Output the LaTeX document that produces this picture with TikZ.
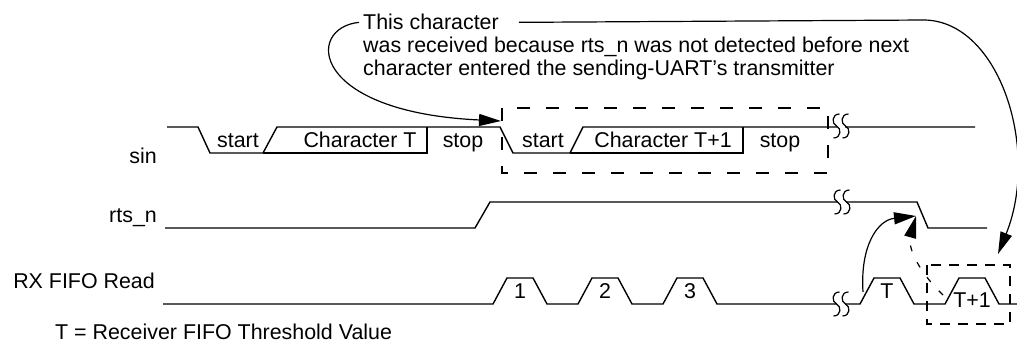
\documentclass[tikz,border=0pt]{standalone}
\usepackage{fontspec}
\setmainfont{Liberation Sans}
\usetikzlibrary{arrows.meta}

\begin{document}
\begin{tikzpicture}[
  x=1pt, y=-1pt, >={Triangle[length=22pt,width=12pt]},
  font=\fontsize{21.4}{25}\selectfont,
  sig/.style={line width=1.4pt, line join=miter},
  txt/.style={inner sep=0pt, anchor=base},
  lab/.style={inner sep=0pt, anchor=base east},
  note/.style={inner sep=0pt, anchor=base west},
  ann/.style={line width=1.2pt},
  frame/.style={line width=1.3pt, dash pattern=on 13pt off 16pt},
  brk/.pic={
    \fill[white] (-4,-2.5) rectangle (4,2.5);
    \foreach \c in {-4.5,4.5}
      \draw[line width=1.2pt] (\c+3,-12) .. controls (\c-5,-12) and (\c-5,-2) .. (\c,0) .. controls (\c+5,2) and (\c+5,12) .. (\c-3,12);
  }]
\useasboundingbox (0,0) rectangle (1017,345);

% signal names
\node[lab] (lblsin) at (157,163) {sin};
\node[lab] (lblrts) at (157,222) {rts\_n};
\node[lab] (lblrx) at (155,288) {RX FIFO Read};
\node[note] (legend) at (55,339) {T = Receiver FIFO Threshold Value};

% sin
\draw[sig] (167,127) -- (198,127) -- (210,153) -- (263,153) -- (277,127) -- (500,127)
  -- (513,153) -- (570,153) -- (583,127) -- (975,127);
\draw[sig] (263,153) -- (427,153) -- (427,127);
\draw[sig] (570,153) -- (743,153) -- (743,127);
\node[txt] (st1) at (238,147) {start};
\node[txt] (ch1) at (360,147) {Character T};
\node[txt] (sp1) at (463,147) {stop};
\node[txt] (st2) at (543,147) {start};
\node[txt] (ch2) at (663,147) {Character T+1};
\node[txt] (sp2) at (780,147) {stop};
\draw[frame] (502,108) rectangle (828,173);
\pic at (841,126) {brk};

% rts_n
\draw[sig] (165,228) -- (475,228) -- (490,202) -- (917,202) -- (928,228) -- (987,228);
\pic at (842,202) {brk};

% RX FIFO Read
\draw[sig] (163,304) \foreach \s in {493,578,663,860,945} { -- (\s,304) -- ++(14,-26) -- ++(26,0) -- ++(14,26) } -- (1017,304);
\foreach \s/\t/\dy [count=\i] in {493/1/0,578/2/0,663/3/0,860/T/0,945/T+1/9}
  \node[txt] (p\i) at (\s+27,298+\dy) {\t};
\draw[line width=1.3pt, dash pattern=on 10pt off 8pt] (927,265) rectangle (1010,324);
\pic at (841,304) {brk};

% annotation
\node[note] (l1) at (363,30) {This character};
\node[note] (l2) at (363,52.5) {was received because rts\_n was not detected before next};
\node[note] (l3) at (363,75) {character entered the sending-UART's transmitter};
\coordinate (chT1) at (501,121);
\coordinate (rxT1) at (998,254);
\coordinate (rxT) at (863,292);
\coordinate (fall) at (916,216);
\draw[ann,->] ([xshift=-4pt]l1.west) .. controls (305,28) and (310,112) .. (chT1);
\draw[ann,->] ([xshift=20pt]l1.east) -- (925,20) .. controls (1000,22) and (1040,150) .. (rxT1);
\draw[ann,->] (rxT) .. controls (860,245) and (878,220) .. (fall);
\draw[ann,->,dash pattern=on 6pt off 12pt] (943,295) .. controls (915,268) and (908,245) .. (fall);
\end{tikzpicture}
\end{document}
